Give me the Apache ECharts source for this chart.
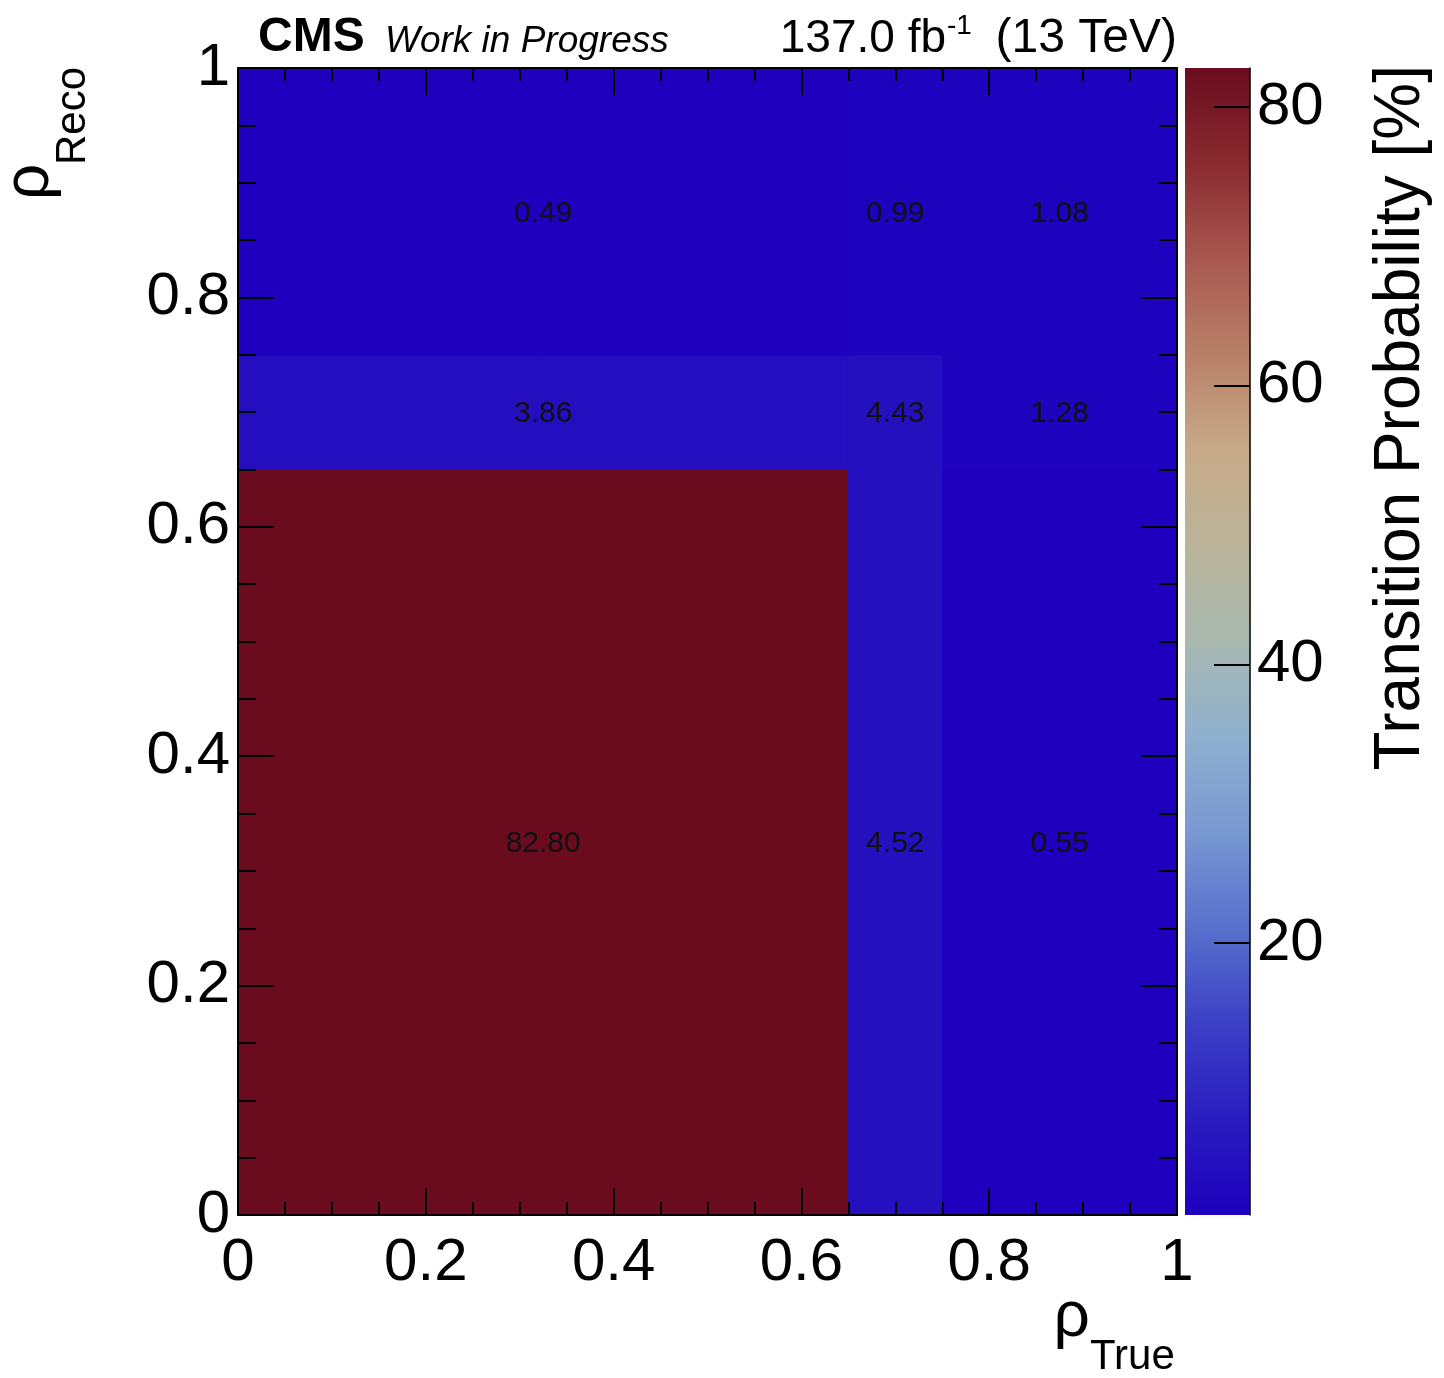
<!DOCTYPE html>
<html lang="en">
<head>
<meta charset="UTF-8">
<title>Transition probability</title>
<script src="https://cdn.jsdelivr.net/npm/echarts@6/dist/echarts.min.js"></script>
<style>
    body { margin: 0; background: #fff; }
    #main { width: 1444px; height: 1378px; }
</style>
</head>
<body>
<div id="main"></div>
<script>
    // bin edges (variable width)
    var xEdges = [0, 0.65, 0.75, 1];
    var yEdges = [0, 0.65, 0.75, 1];
    // transition probability [%], one array per reco bin, true bins left to right
    var recoBin1 = [82.80, 4.52, 0.55];
    var recoBin2 = [3.86, 4.43, 1.28];
    var recoBin3 = [0.49, 0.99, 1.08];
    var zMin = 0.49, zMax = 82.80;
    var zTicks = [20, 40, 60, 80];

    var FONT = "'Liberation Sans', Arial, Helvetica, sans-serif";
    var palette = ['#1e00be', '#2a1cc0', '#3c40c6', '#5870cc', '#7898d2', '#90b0d0',
        '#a8b8b0', '#bab49a', '#c8aa88', '#b88068', '#a85850', '#8a2a30', '#6a0c1e'];

    var rows = [recoBin1, recoBin2, recoBin3];
    var cells = [];
    rows.forEach(function (row, j) {
        row.forEach(function (v, i) {
            cells.push([xEdges[i], xEdges[i + 1], yEdges[j], yEdges[j + 1], v]);
        });
    });

    var myChart = echarts.init(document.getElementById('main'));

    // colour bar box (pixels)
    var CB = { left: 1185, top: 68, width: 65, height: 1147 };

    function frameAxis(extra) {
        var a = {
            min: 0, max: 1, interval: 0.2, z: 10,
            axisLine: { show: true, onZero: false, lineStyle: { color: '#000', width: 2 } },
            splitLine: { show: false },
            axisTick: { inside: true, length: 27, lineStyle: { color: '#000', width: 2 } },
            minorTick: { show: true, splitNumber: 4, length: 13, lineStyle: { color: '#000', width: 2 } },
            axisLabel: { show: false }
        };
        return Object.assign(a, extra);
    }

    // gradient for the colour bar, top = max
    var stops = palette.slice().reverse().map(function (c, i, arr) {
        return { offset: i / (arr.length - 1), color: c };
    });

    var option = {
        animation: false,
        grid: [
            { left: 238, top: 68, width: 939, height: 1147 },
            { left: CB.left, top: CB.top, width: CB.width, height: CB.height }
        ],
        xAxis: [
            frameAxis({ type: 'value', position: 'bottom', gridIndex: 0,
                axisLabel: { show: true, fontSize: 60, color: '#000', fontFamily: FONT, margin: 18 } }),
            frameAxis({ type: 'value', position: 'top', gridIndex: 0 }),
            { type: 'value', gridIndex: 1, show: false, min: 0, max: 1 }
        ],
        yAxis: [
            frameAxis({ type: 'value', position: 'left', gridIndex: 0,
                axisTick: { inside: true, length: 36, lineStyle: { color: '#000', width: 2 } },
                minorTick: { show: true, splitNumber: 4, length: 18, lineStyle: { color: '#000', width: 2 } },
                axisLabel: { show: true, fontSize: 60, color: '#000', fontFamily: FONT, margin: 8 } }),
            frameAxis({ type: 'value', position: 'right', gridIndex: 0,
                axisTick: { inside: true, length: 36, lineStyle: { color: '#000', width: 2 } },
                minorTick: { show: true, splitNumber: 4, length: 18, lineStyle: { color: '#000', width: 2 } } }),
            {
                type: 'value', gridIndex: 1, position: 'right', min: zMin, max: zMax, z: 10,
                axisLine: { show: true, onZero: false, lineStyle: { color: '#000', width: 1.5 } },
                splitLine: { show: false },
                axisTick: { show: true, inside: true, length: 36, customValues: zTicks,
                    lineStyle: { color: '#000', width: 2 } },
                axisLabel: { show: true, customValues: zTicks, fontSize: 60, color: '#000',
                    fontFamily: FONT, margin: 7 }
            }
        ],
        visualMap: {
            type: 'continuous',
            show: false,
            seriesIndex: 0,
            dimension: 4,
            min: zMin,
            max: zMax,
            inRange: { color: palette }
        },
        series: [{
            type: 'custom',
            xAxisIndex: 0,
            yAxisIndex: 0,
            encode: { x: [0, 1], y: [2, 3] },
            data: cells,
            renderItem: function (params, api) {
                var p0 = api.coord([api.value(0), api.value(2)]);
                var p1 = api.coord([api.value(1), api.value(3)]);
                var w = p1[0] - p0[0], h = p0[1] - p1[1];
                var c = api.visual('color');
                return {
                    type: 'group',
                    children: [{
                        type: 'rect',
                        shape: { x: p0[0], y: p1[1], width: w, height: h },
                        style: { fill: c, stroke: c, lineWidth: 1 }
                    }, {
                        type: 'text',
                        x: p0[0] + w / 2,
                        y: p1[1] + h / 2 + 2,
                        z2: 5,
                        style: {
                            text: api.value(4).toFixed(2),
                            fontSize: 30, fontFamily: FONT, fill: '#111',
                            align: 'center', verticalAlign: 'middle'
                        }
                    }]
                };
            }
        }],
        graphic: [
            { type: 'rect', z: 1, shape: { x: CB.left, y: CB.top, width: CB.width, height: CB.height },
                style: { fill: new echarts.graphic.LinearGradient(0, 0, 0, 1, stops) } },
            { type: 'text', x: 258, y: 38, style: { text: 'CMS', fontSize: 48, fontWeight: 'bold',
                fontFamily: FONT, fill: '#000', align: 'left', verticalAlign: 'middle' } },
            { type: 'text', x: 385, y: 42, style: { text: 'Work in Progress', fontSize: 37, fontStyle: 'italic',
                fontFamily: FONT, fill: '#000', align: 'left', verticalAlign: 'middle' } },
            { type: 'text', x: 946, y: 39, style: { text: '137.0 fb', fontSize: 46,
                fontFamily: FONT, fill: '#000', align: 'right', verticalAlign: 'middle' } },
            { type: 'text', x: 947, y: 26, style: { text: '-1', fontSize: 28,
                fontFamily: FONT, fill: '#000', align: 'left', verticalAlign: 'middle' } },
            { type: 'text', x: 1177, y: 39, style: { text: '(13 TeV)', fontSize: 48,
                fontFamily: FONT, fill: '#000', align: 'right', verticalAlign: 'middle' } },
            // x title
            { type: 'text', x: 1090, y: 1318, style: { text: 'ρ', fontSize: 64,
                fontFamily: FONT, fill: '#000', align: 'right', verticalAlign: 'middle' } },
            { type: 'text', x: 1090, y: 1357, style: { text: 'True', fontSize: 42,
                fontFamily: FONT, fill: '#000', align: 'left', verticalAlign: 'middle' } },
            // y title (rotated)
            { type: 'text', x: 30, y: 200, rotation: Math.PI / 2, style: { text: 'ρ', fontSize: 64,
                fontFamily: FONT, fill: '#000', align: 'left', verticalAlign: 'middle' } },
            { type: 'text', x: 73, y: 165, rotation: Math.PI / 2, style: { text: 'Reco', fontSize: 42,
                fontFamily: FONT, fill: '#000', align: 'left', verticalAlign: 'middle' } },
            // colour bar title
            { type: 'text', x: 1401, y: 65, rotation: Math.PI / 2, style: { text: 'Transition Probability [%]',
                fontSize: 64, fontFamily: FONT, fill: '#000', align: 'right', verticalAlign: 'middle' } }
        ]
    };

    myChart.setOption(option);
</script>
</body>
</html>
